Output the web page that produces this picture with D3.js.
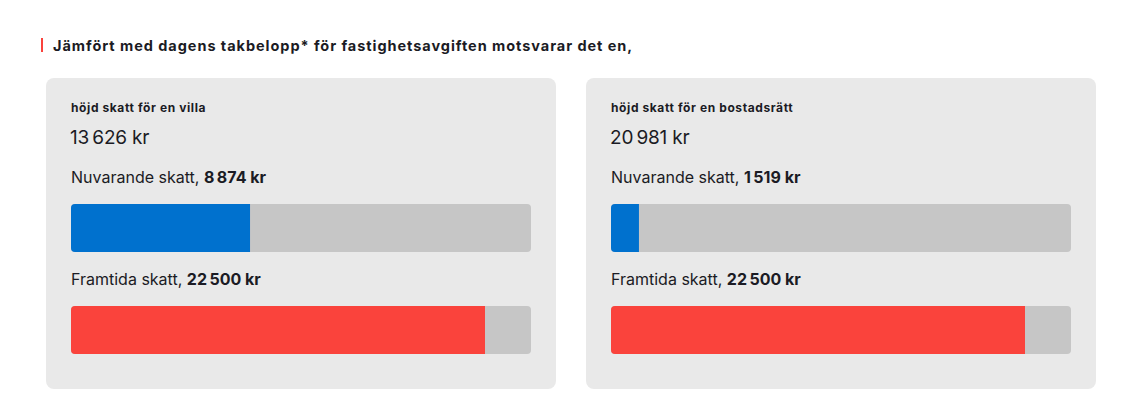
<!DOCTYPE html>
<html>
<head>
<meta charset="utf-8">
<script src="https://cdn.jsdelivr.net/npm/d3@7"></script>
<style>
  html, body { margin: 0; padding: 0; background: #ffffff; }
  svg { display: block; }
  text { font-family: "Inter", "Lato", sans-serif; fill: #1b1b24; }
</style>
</head>
<body>
<div id="chart"></div>
<script>
const heading = "Jämfört med dagens takbelopp* för fastighetsavgiften motsvarar det en,";
const cardTitles = ["höjd skatt för en villa", "höjd skatt för en bostadsrätt"];
const increase = [13626, 20981];
const currentTax = [8874, 1519];
const currentBarValue = [9730, 1519]; // bar length as drawn in the reference
const futureTax = [22500, 22500];
const scaleMax = 25000;

const W = 1121, H = 403;
const fmt = v => d3.format(",")(v).replace(/,/g, "\u202F");

const svg = d3.select("#chart").append("svg").attr("width", W).attr("height", H);

svg.append("rect").attr("x", 41).attr("y", 38).attr("width", 2).attr("height", 14).attr("fill", "#fa433c");
svg.append("text").attr("x", 53).attr("y", 51).attr("font-size", 14.5).attr("font-weight", 700)
  .attr("letter-spacing", 0.95).text(heading);

const cardX = d3.scaleBand().domain(d3.range(2)).range([46, 1096]).paddingInner(30 / 540);
const x = d3.scaleLinear().domain([0, scaleMax]).range([0, 460]);

cardTitles.forEach((t, i) => {
  const g = svg.append("g").attr("transform", `translate(${cardX(i)},78)`);
  g.append("rect").attr("width", cardX.bandwidth()).attr("height", 311).attr("rx", 8).attr("fill", "#e9e9e9");
  g.append("text").attr("x", 25).attr("y", 34).attr("font-size", 12).attr("font-weight", 700)
    .attr("letter-spacing", 0.6).text(t);
  g.append("text").attr("x", 24).attr("y", 66).attr("font-size", 19).attr("font-weight", 400).attr("letter-spacing", -0.2)
    .text(fmt(increase[i]) + " kr");
  const l1 = g.append("text").attr("x", 25).attr("y", 105).attr("font-size", 16).attr("font-weight", 400);
  l1.append("tspan").text("Nuvarande skatt, ");
  l1.append("tspan").attr("font-weight", 700).text(fmt(currentTax[i]) + " kr");
  const l2 = g.append("text").attr("x", 25).attr("y", 207).attr("font-size", 16).attr("font-weight", 400);
  l2.append("tspan").text("Framtida skatt, ");
  l2.append("tspan").attr("font-weight", 700).text(fmt(futureTax[i]) + " kr");

  const bars = [
    { y: 126, v: currentBarValue[i], c: "#0071ce" },
    { y: 228, v: futureTax[i], c: "#fa433c" }
  ];
  bars.forEach((b, k) => {
    const id = `clip${i}_${k}`;
    g.append("clipPath").attr("id", id).append("rect")
      .attr("x", 25).attr("y", b.y).attr("width", x(scaleMax)).attr("height", 48).attr("rx", 4);
    const bg = g.append("g").attr("clip-path", `url(#${id})`);
    bg.append("rect").attr("x", 25).attr("y", b.y).attr("width", x(scaleMax)).attr("height", 48).attr("fill", "#c6c6c6");
    bg.append("rect").attr("x", 25).attr("y", b.y).attr("width", x(b.v)).attr("height", 48).attr("fill", b.c);
  });
});
</script>
</body>
</html>
